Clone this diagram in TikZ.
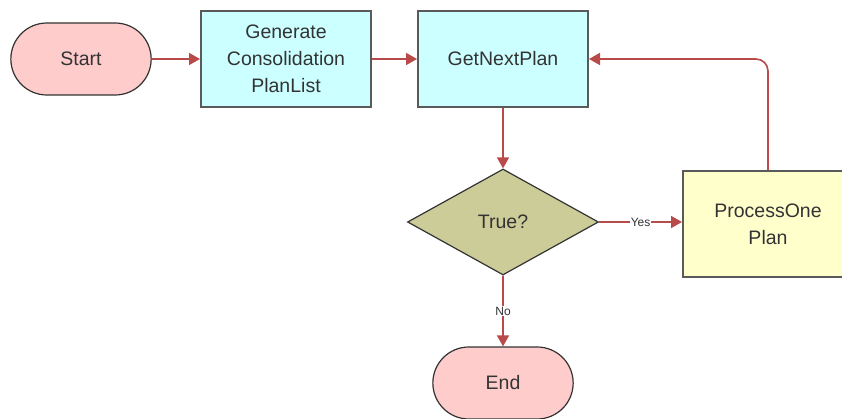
\documentclass[tikz,border=0pt]{standalone}
\usepackage{fontspec}
\setmainfont{Liberation Sans}
\usetikzlibrary{shapes.geometric,shapes.misc,arrows.meta}

\definecolor{termfill}{HTML}{FFCCCC}
\definecolor{stepfill}{HTML}{CCFFFF}
\definecolor{testfill}{HTML}{CCCC99}
\definecolor{workfill}{HTML}{FFFFCC}
\definecolor{flowred}{HTML}{B84A4A}
\definecolor{edgegray}{HTML}{5A5A5A}
\definecolor{txtgray}{HTML}{333333}

\tikzset{
	term/.style={rounded rectangle,draw=black!80,line width=1.2pt,fill=termfill,
		minimum width=147pt,minimum height=72pt,text=txtgray},
	stepbox/.style={rectangle,draw=edgegray,line width=2pt,fill=stepfill,
		minimum width=170pt,minimum height=96pt,align=center,text=txtgray},
	workbox/.style={stepbox,fill=workfill,minimum height=106pt},
	test/.style={diamond,draw=black!80,line width=1.2pt,fill=testfill,
		minimum width=191pt,minimum height=106pt,inner sep=0pt,text=txtgray},
	flow/.style={draw=flowred,line width=1.6pt,-{Triangle[length=11pt,width=12pt]}},
	tag/.style={fill=white,inner sep=1pt,font=\fontsize{12}{14}\selectfont,text=txtgray}
}

\begin{document}
\begin{tikzpicture}[x=1pt,y=-1pt,font=\fontsize{19.5}{27}\selectfont]
\clip (0,0) rectangle (842,419);
\fill[white] (0,0) rectangle (842,419);

% nodes
\node[term] (start) at (81,59) {Start};
\node[stepbox] (genlist) at (286,59) {Generate\\Consolidation\\PlanList};
\node[stepbox] (getnext) at (503,59) {GetNextPlan};
\node[test] (istrue) at (503,222) {True?};
\node[workbox] (procone) at (768,224) {ProcessOne\\Plan};
\node[term] (finish) at (503,383) {End};

% connectors
\draw[flow] (start) -- (genlist);
\draw[flow] (genlist) -- (getnext);
\draw[flow] (getnext) -- (istrue);
\draw[flow] (istrue.east) -- node[tag] {Yes} (istrue.east -| procone.west);
\draw[flow,rounded corners=12pt] (procone.north) |- (getnext.east);
\draw[flow] (istrue) -- node[tag] {No} (finish);
\end{tikzpicture}
\end{document}
